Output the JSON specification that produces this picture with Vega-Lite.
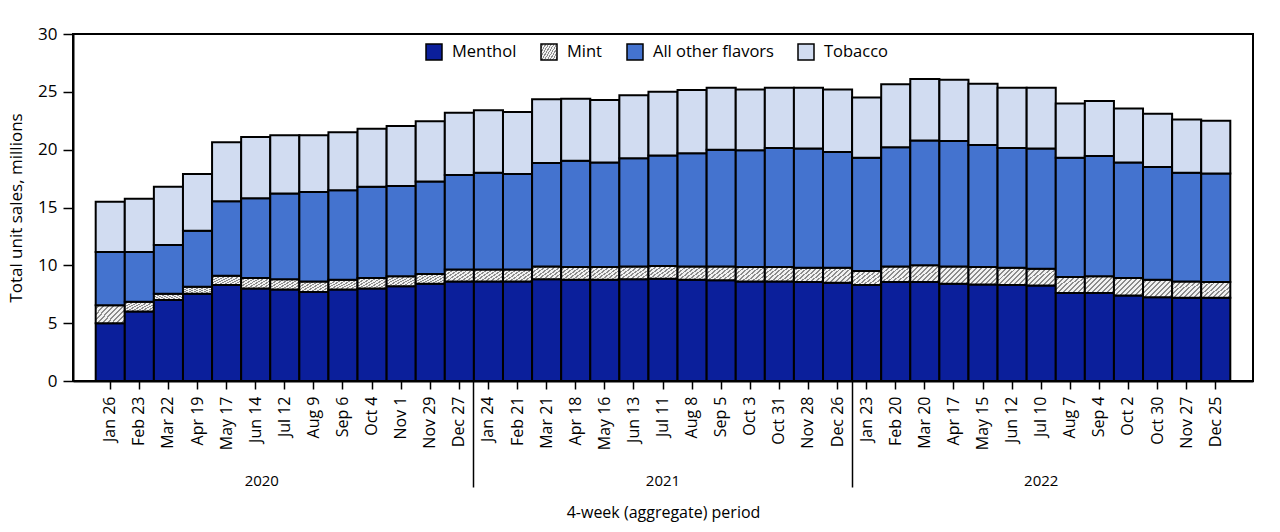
{
  "$schema": "https://vega.github.io/schema/vega-lite/v6.json",
  "width": 1180,
  "height": 347,
  "autosize": {"type": "none"},
  "padding": {"left": 73, "top": 34, "right": 27, "bottom": 151},
  "background": "white",
  "config": {
    "font": "Open Sans",
    "view": {"stroke": "black", "strokeWidth": 2},
    "axis": {"labelColor": "black", "titleColor": "black", "tickColor": "black", "domainColor": "black", "grid": false, "titleFontWeight": "normal"}
  },
  "datasets": {
    "flavors": [
      {"f": "Menthol", "k": 1},
      {"f": "Mint", "k": 2},
      {"f": "All other flavors", "k": 3},
      {"f": "Tobacco", "k": 4}
    ]
  },
  "data": {
    "values": [
      {"p": "Jan 26", "yr": "2020", "Menthol": 5.0, "Mint": 1.55, "All other flavors": 4.6, "Tobacco": 4.35},
      {"p": "Feb 23", "yr": "2020", "Menthol": 6.0, "Mint": 0.85, "All other flavors": 4.3, "Tobacco": 4.6},
      {"p": "Mar 22", "yr": "2020", "Menthol": 7.0, "Mint": 0.55, "All other flavors": 4.2, "Tobacco": 5.05},
      {"p": "Apr 19", "yr": "2020", "Menthol": 7.55, "Mint": 0.6, "All other flavors": 4.85, "Tobacco": 4.9},
      {"p": "May 17", "yr": "2020", "Menthol": 8.3, "Mint": 0.8, "All other flavors": 6.45, "Tobacco": 5.1},
      {"p": "Jun 14", "yr": "2020", "Menthol": 8.0, "Mint": 0.9, "All other flavors": 6.9, "Tobacco": 5.3},
      {"p": "Jul 12", "yr": "2020", "Menthol": 7.9, "Mint": 0.9, "All other flavors": 7.4, "Tobacco": 5.05},
      {"p": "Aug 9", "yr": "2020", "Menthol": 7.7, "Mint": 0.9, "All other flavors": 7.75, "Tobacco": 4.9},
      {"p": "Sep 6", "yr": "2020", "Menthol": 7.9, "Mint": 0.85, "All other flavors": 7.75, "Tobacco": 5.0},
      {"p": "Oct 4", "yr": "2020", "Menthol": 8.0, "Mint": 0.9, "All other flavors": 7.9, "Tobacco": 5.0},
      {"p": "Nov 1", "yr": "2020", "Menthol": 8.2, "Mint": 0.85, "All other flavors": 7.8, "Tobacco": 5.2},
      {"p": "Nov 29", "yr": "2020", "Menthol": 8.4, "Mint": 0.85, "All other flavors": 8.0, "Tobacco": 5.2},
      {"p": "Dec 27", "yr": "2020", "Menthol": 8.6, "Mint": 1.05, "All other flavors": 8.15, "Tobacco": 5.4},
      {"p": "Jan 24", "yr": "2021", "Menthol": 8.6, "Mint": 1.05, "All other flavors": 8.35, "Tobacco": 5.4},
      {"p": "Feb 21", "yr": "2021", "Menthol": 8.6, "Mint": 1.05, "All other flavors": 8.25, "Tobacco": 5.35},
      {"p": "Mar 21", "yr": "2021", "Menthol": 8.8, "Mint": 1.1, "All other flavors": 8.95, "Tobacco": 5.5},
      {"p": "Apr 18", "yr": "2021", "Menthol": 8.75, "Mint": 1.1, "All other flavors": 9.2, "Tobacco": 5.35},
      {"p": "May 16", "yr": "2021", "Menthol": 8.75, "Mint": 1.1, "All other flavors": 9.05, "Tobacco": 5.4},
      {"p": "Jun 13", "yr": "2021", "Menthol": 8.8, "Mint": 1.1, "All other flavors": 9.35, "Tobacco": 5.45},
      {"p": "Jul 11", "yr": "2021", "Menthol": 8.85, "Mint": 1.1, "All other flavors": 9.55, "Tobacco": 5.5},
      {"p": "Aug 8", "yr": "2021", "Menthol": 8.75, "Mint": 1.15, "All other flavors": 9.8, "Tobacco": 5.45},
      {"p": "Sep 5", "yr": "2021", "Menthol": 8.7, "Mint": 1.2, "All other flavors": 10.1, "Tobacco": 5.35},
      {"p": "Oct 3", "yr": "2021", "Menthol": 8.6, "Mint": 1.25, "All other flavors": 10.1, "Tobacco": 5.25},
      {"p": "Oct 31", "yr": "2021", "Menthol": 8.6, "Mint": 1.25, "All other flavors": 10.3, "Tobacco": 5.2},
      {"p": "Nov 28", "yr": "2021", "Menthol": 8.55, "Mint": 1.25, "All other flavors": 10.3, "Tobacco": 5.25},
      {"p": "Dec 26", "yr": "2021", "Menthol": 8.5, "Mint": 1.3, "All other flavors": 10.0, "Tobacco": 5.4},
      {"p": "Jan 23", "yr": "2022", "Menthol": 8.3, "Mint": 1.2, "All other flavors": 9.8, "Tobacco": 5.2},
      {"p": "Feb 20", "yr": "2022", "Menthol": 8.55, "Mint": 1.35, "All other flavors": 10.3, "Tobacco": 5.45},
      {"p": "Mar 20", "yr": "2022", "Menthol": 8.55, "Mint": 1.45, "All other flavors": 10.8, "Tobacco": 5.3},
      {"p": "Apr 17", "yr": "2022", "Menthol": 8.4, "Mint": 1.5, "All other flavors": 10.85, "Tobacco": 5.3},
      {"p": "May 15", "yr": "2022", "Menthol": 8.35, "Mint": 1.5, "All other flavors": 10.55, "Tobacco": 5.3},
      {"p": "Jun 12", "yr": "2022", "Menthol": 8.3, "Mint": 1.5, "All other flavors": 10.35, "Tobacco": 5.2},
      {"p": "Jul 10", "yr": "2022", "Menthol": 8.25, "Mint": 1.45, "All other flavors": 10.4, "Tobacco": 5.25},
      {"p": "Aug 7", "yr": "2022", "Menthol": 7.6, "Mint": 1.4, "All other flavors": 10.3, "Tobacco": 4.7},
      {"p": "Sep 4", "yr": "2022", "Menthol": 7.6, "Mint": 1.45, "All other flavors": 10.4, "Tobacco": 4.75},
      {"p": "Oct 2", "yr": "2022", "Menthol": 7.4, "Mint": 1.5, "All other flavors": 10.0, "Tobacco": 4.65},
      {"p": "Oct 30", "yr": "2022", "Menthol": 7.25, "Mint": 1.5, "All other flavors": 9.75, "Tobacco": 4.6},
      {"p": "Nov 27", "yr": "2022", "Menthol": 7.2, "Mint": 1.4, "All other flavors": 9.4, "Tobacco": 4.6},
      {"p": "Dec 25", "yr": "2022", "Menthol": 7.2, "Mint": 1.35, "All other flavors": 9.4, "Tobacco": 4.55}
    ]
  },
  "layer": [
    {
      "transform": [
        {"fold": ["Menthol", "Mint", "All other flavors", "Tobacco"], "as": ["f", "v"]},
        {"lookup": "f", "from": {"data": {"name": "flavors"}, "key": "f", "fields": ["k"]}}
      ],
      "mark": {"type": "bar", "stroke": "black", "strokeWidth": 2},
      "encoding": {
        "x": {
          "field": "p", "type": "ordinal", "sort": null,
          "scale": {"paddingInner": 0, "paddingOuter": 0.78},
          "axis": {"orient": "bottom", "title": null, "labelAngle": -90, "labelAlign": "right", "labelBaseline": "middle", "labelFontSize": 16, "labelPadding": 7, "tickSize": 8, "tickWidth": 1.5, "domainWidth": 2}
        },
        "y": {
          "field": "v", "type": "quantitative", "stack": "zero",
          "scale": {"domain": [0, 30], "nice": false},
          "axis": {"title": "Total unit sales, millions", "values": [0, 5, 10, 15, 20, 25, 30], "tickSize": 10, "tickWidth": 1.5, "domainWidth": 2, "labelFontSize": 17, "labelPadding": 6, "titleFontSize": 17, "titlePadding": 12}
        },
        "order": {"field": "k", "type": "quantitative", "sort": "ascending"},
        "fill": {
          "field": "f", "type": "nominal",
          "sort": ["Menthol", "Mint", "All other flavors", "Tobacco"],
          "scale": {
            "domain": ["Menthol", "Mint", "All other flavors", "Tobacco"],
            "range": [
              "#0b1f9b",
              {"expr": "{gradient: 'linear', x1: 0, y1: 0, x2: 1.25, y2: 0.75, stops: [{offset: 0, color: '#f2f2f2'}, {offset: 0.06, color: '#f2f2f2'}, {offset: 0.06, color: '#8c8c8c'}, {offset: 0.1, color: '#8c8c8c'}, {offset: 0.1, color: '#f2f2f2'}, {offset: 0.16, color: '#f2f2f2'}, {offset: 0.16, color: '#8c8c8c'}, {offset: 0.2, color: '#8c8c8c'}, {offset: 0.2, color: '#f2f2f2'}, {offset: 0.26, color: '#f2f2f2'}, {offset: 0.26, color: '#8c8c8c'}, {offset: 0.3, color: '#8c8c8c'}, {offset: 0.3, color: '#f2f2f2'}, {offset: 0.36, color: '#f2f2f2'}, {offset: 0.36, color: '#8c8c8c'}, {offset: 0.4, color: '#8c8c8c'}, {offset: 0.4, color: '#f2f2f2'}, {offset: 0.46, color: '#f2f2f2'}, {offset: 0.46, color: '#8c8c8c'}, {offset: 0.5, color: '#8c8c8c'}, {offset: 0.5, color: '#f2f2f2'}, {offset: 0.56, color: '#f2f2f2'}, {offset: 0.56, color: '#8c8c8c'}, {offset: 0.6, color: '#8c8c8c'}, {offset: 0.6, color: '#f2f2f2'}, {offset: 0.66, color: '#f2f2f2'}, {offset: 0.66, color: '#8c8c8c'}, {offset: 0.7, color: '#8c8c8c'}, {offset: 0.7, color: '#f2f2f2'}, {offset: 0.76, color: '#f2f2f2'}, {offset: 0.76, color: '#8c8c8c'}, {offset: 0.8, color: '#8c8c8c'}, {offset: 0.8, color: '#f2f2f2'}, {offset: 0.86, color: '#f2f2f2'}, {offset: 0.86, color: '#8c8c8c'}, {offset: 0.9, color: '#8c8c8c'}, {offset: 0.9, color: '#f2f2f2'}, {offset: 0.96, color: '#f2f2f2'}, {offset: 0.96, color: '#8c8c8c'}, {offset: 1, color: '#8c8c8c'}]}"},
              "#4473cf",
              "#d1dcf1"
            ]
          },
          "legend": {
            "orient": "none", "legendX": 352, "legendY": 9, "direction": "horizontal", "title": null,
            "symbolType": "square", "symbolSize": 256, "symbolStrokeColor": "black", "symbolStrokeWidth": 1.5, "symbolOpacity": 1,
            "labelFontSize": 16.5, "labelColor": "black", "labelOffset": 9, "columnPadding": 21, "padding": 0
          }
        }
      }
    },
    {
      "mark": {"type": "tick", "opacity": 0},
      "encoding": {
        "x": {
          "field": "yr", "type": "nominal",
          "scale": {"type": "band", "domain": ["2020", "2021", "2022"], "paddingInner": 0, "paddingOuter": 0.06},
          "axis": {
            "orient": "bottom", "domain": false, "bandPosition": 0, "labelAngle": 0,
            "tickSize": 106, "tickWidth": 1.5,
            "tickOpacity": {"condition": {"test": "datum.value === '2020'", "value": 0}, "value": 1},
            "labelOffset": {"condition": {"test": "datum.value === '2020'", "value": -23}, "value": 0},
            "labelFontSize": 15, "labelPadding": -14,
            "title": "4-week (aggregate) period", "titleFontSize": 16, "titlePadding": 16
          }
        }
      }
    }
  ],
  "resolve": {"scale": {"x": "independent"}, "axis": {"x": "independent"}}
}
